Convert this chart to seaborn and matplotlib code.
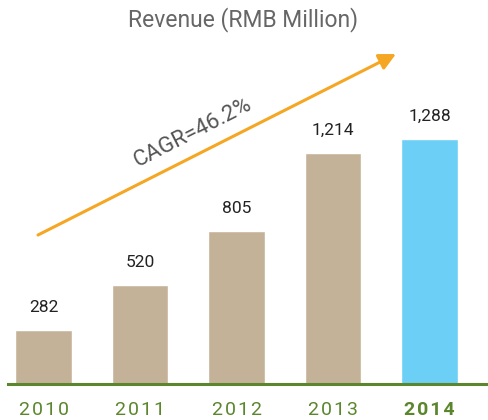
import matplotlib
matplotlib.use("Agg")
import matplotlib.pyplot as plt
import seaborn as sns

# data
years = ["2010", "2011", "2012", "2013", "2014"]
revenue = [282, 520, 805, 1214, 1288]
value_labels = ["282", "520", "805", "1,214", "1,288"]
title = "Revenue (RMB Million)"
cagr_text = "CAGR=46.2%"

tan = "#C4B298"
blue = "#6CCFF6"
green = "#5B862D"
orange = "#F5A623"

sns.set_style("white")
plt.rcParams["font.family"] = ["Roboto", "DejaVu Sans"]

fig = plt.figure(figsize=(4.88, 4.2), dpi=100)
# axes placed so that the baseline sits at the right pixel row
ax = fig.add_axes([8 / 488, 36 / 420, 480 / 488, 384 / 420])

palette = {y: (blue if y == "2014" else tan) for y in years}
sns.barplot(x=years, y=revenue, hue=years, palette=palette, legend=False,
            width=0.59, saturation=1, ax=ax)

ax.set_xlim(-0.368, 4.606)
ax.set_ylim(0, 2021)

for i, (v, lab) in enumerate(zip(revenue, value_labels)):
    ax.text(i, v + 120, lab, ha="center", va="center", fontsize=12.5, color="#222222")

for s in ["top", "left", "right"]:
    ax.spines[s].set_visible(False)
ax.spines["bottom"].set_color(green)
ax.spines["bottom"].set_linewidth(2.2)
ax.set_yticks([])
ax.set_ylabel("")
ax.tick_params(axis="x", length=0, pad=12)
ax.set_xticks(range(len(years)))
ax.set_xticklabels(["\u200a".join(y) for y in years], fontsize=14, color=green)
ax.get_xticklabels()[-1].set_fontweight("bold")

fig.text(243 / 488, 1 - 20 / 420, title, ha="center", va="center",
         fontsize=16.5, color="#666666")

# growth arrow in figure pixels
ax.annotate("", xy=(396, 420 - 54), xytext=(38, 420 - 235),
            xycoords="figure pixels", textcoords="figure pixels",
            arrowprops=dict(arrowstyle="-|>,head_length=1.0,head_width=0.5",
                            color=orange, lw=2.2, shrinkA=0, shrinkB=0))
fig.text(193 / 488, 1 - 133 / 420, cagr_text, ha="center", va="center",
         rotation=27, rotation_mode="anchor", fontsize=16, color="#555555")

fig.savefig("out.png", dpi=100)
